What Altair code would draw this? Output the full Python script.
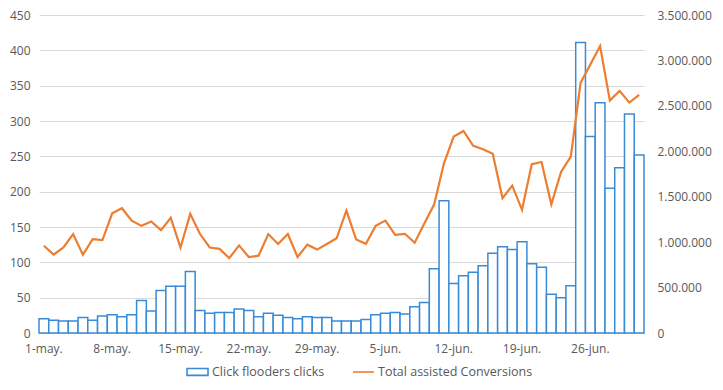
import altair as alt
import pandas as pd

# ---- data ----
START_DATE = "2017-05-01"
N_DAYS = 62
MONTH_ABBR = {5: "may.", 6: "jun.", 7: "jul."}

clicks = [20, 18, 17, 17, 22, 18, 24, 26, 23, 26,
          46, 31, 60, 66, 66, 87, 32, 28, 29, 29,
          34, 32, 23, 28, 25, 22, 20, 23, 22, 22,
          17, 17, 17, 19, 26, 28, 29, 27, 37, 43,
          91, 187, 70, 81, 86, 95, 113, 122, 118, 129,
          98, 93, 55, 50, 67, 411, 278, 326, 205, 234,
          310, 252]

conversions = [960000, 862000, 941000, 1089000, 862000, 1034000, 1023000, 1318000, 1373000, 1237000,
               1179000, 1227000, 1132000, 1267000, 941000, 1311000, 1089000, 941000, 926000, 824000,
               964000, 836000, 851000, 1089000, 980000, 1089000, 836000, 972000, 918000, 980000,
               1042000, 1346000, 1030000, 982000, 1179000, 1237000, 1081000, 1092000, 993000, 1209000,
               1416000, 1867000, 2162000, 2224000, 2061000, 2022000, 1972000, 1483000, 1622000, 1356000,
               1859000, 1882000, 1416000, 1773000, 1941000, 2753000, 2956000, 3158000, 2559000, 2665000,
               2536000, 2621000]

left_ticks = [0, 50, 100, 150, 200, 250, 300, 350, 400, 450]
right_ticks = [0, 500000, 1000000, 1500000, 2000000, 2500000, 3000000, 3500000]
label_every = 7

BAR_NAME = "Click flooders clicks"
LINE_NAME = "Total assisted Conversions"

dates = pd.date_range(START_DATE, periods=N_DAYS)
day_labels = [f"{d.day}-{MONTH_ABBR[d.month]}" for d in dates]
x_ticks = day_labels[::label_every]

df = pd.DataFrame({"day": day_labels, "clicks": clicks, "conv": conversions})
legend_df = pd.DataFrame({"series": [BAR_NAME, LINE_NAME]})

FONT = "Open Sans"
TXT = "#595959"
BLUE = "#3A8BD6"
ORANGE = "#ED7D31"
GRID = "#D9D9D9"

x_enc = alt.X("day:O", sort=day_labels,
              scale=alt.Scale(paddingInner=0, paddingOuter=0),
              axis=alt.Axis(values=x_ticks, labelAngle=0, ticks=False, domain=False,
                            title=None, labelPadding=10, grid=False))

bars = alt.Chart(df).mark_bar(fill="white", stroke=BLUE, strokeWidth=1.5).encode(
    x=x_enc,
    y=alt.Y("clicks:Q", scale=alt.Scale(domain=[0, 450], nice=False),
            axis=alt.Axis(values=left_ticks, title=None, ticks=False, domain=False,
                          grid=True, gridColor=GRID, gridWidth=1, labelPadding=9)),
)

line = alt.Chart(df).mark_line(color=ORANGE, strokeWidth=2.2).encode(
    x=x_enc,
    y=alt.Y("conv:Q", scale=alt.Scale(domain=[0, 3500000], nice=False),
            axis=alt.Axis(values=right_ticks, title=None, ticks=False, domain=False,
                          grid=False, orient="right", labelPadding=13,
                          labelExpr="replace(format(datum.value, ','), regexp(',', 'g'), '.')")),
)

leg = alt.Legend(title=None, orient="none", direction="horizontal",
                 legendX=147, legendY=345, symbolSize=441,
                 symbolStrokeWidth=1.6, symbolOpacity=1,
                 labelFontSize=12.5, labelFont=FONT, labelColor=TXT,
                 labelOffset=3, columnPadding=24)

legend_layer = alt.Chart(legend_df).mark_point(filled=False).encode(
    x=alt.value(-200),
    y=alt.value(-200),
    shape=alt.Shape("series:N",
                    scale=alt.Scale(domain=[BAR_NAME, LINE_NAME],
                                    range=["M-1,-0.33H1V0.33H-1Z", "stroke"]),
                    legend=leg),
    stroke=alt.Stroke("series:N",
                      scale=alt.Scale(domain=[BAR_NAME, LINE_NAME], range=[BLUE, ORANGE]),
                      legend=leg),
)

chart = alt.layer(bars, line, legend_layer).resolve_scale(y="independent").properties(
    width=605, height=318,
    autosize=alt.AutoSizeParams(type="none"),
    padding={"left": 31, "top": 7, "right": 70, "bottom": 49},
).configure_view(stroke=None).configure_axis(
    labelFont=FONT, labelFontSize=12, labelColor=TXT
)

chart.save("out.html", embed_options={"renderer": "svg", "actions": False})
